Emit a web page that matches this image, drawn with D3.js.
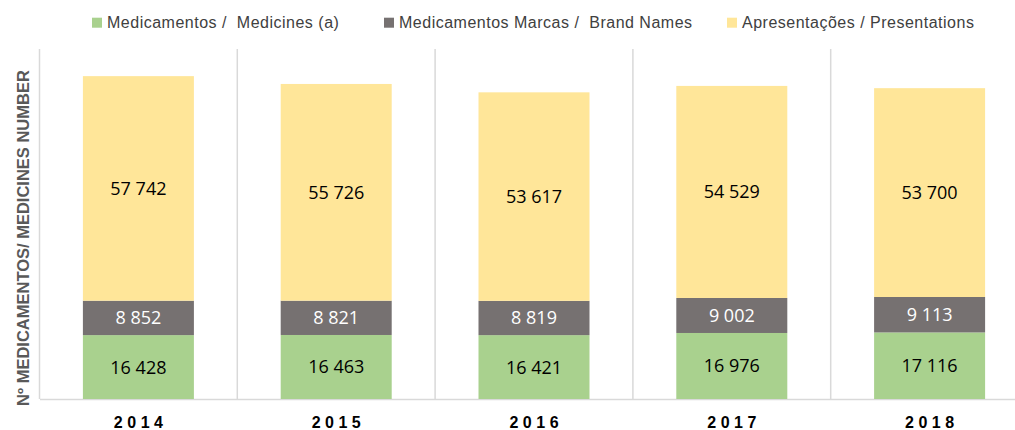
<!DOCTYPE html>
<html><head><meta charset="utf-8">
<script src="https://cdn.jsdelivr.net/npm/d3@7"></script>
<style>body{margin:0;background:#fff;}svg{display:block;}</style>
</head><body>
<svg id="chart" width="1015" height="430"></svg>
<script>
const categories = ["2014", "2015", "2016", "2017", "2018"];
const medicines = [16428, 16463, 16421, 16976, 17116];
const brandNames = [8852, 8821, 8819, 9002, 9113];
const presentations = [57742, 55726, 53617, 54529, 53700];
const seriesNames = ["Medicamentos /  Medicines (a)", "Medicamentos Marcas /  Brand Names", "Apresentações / Presentations"];
const seriesColors = ["#a9d18e", "#767171", "#ffe699"];
const labelColors = ["#000000", "#ffffff", "#000000"];
const yTitle = "Nº MEDICAMENTOS/ MEDICINES NUMBER";

(function() {
const seriesKeys = ["medicines", "brand", "presentations"];
const table = categories.map((c, i) => ({cat: c, medicines: medicines[i], brand: brandNames[i], presentations: presentations[i]}));
const stacked = d3.stack().keys(seriesKeys)(table);

const svg = d3.select("#chart");
const pLeft = 39.5, pRight = 1028.5, pTop = 49, pBottom = 399;
const x = d3.scaleBand().domain(categories).range([pLeft, pRight]).padding(0);
const y = d3.scaleLinear().domain([0, 90000]).range([pBottom, pTop]);
const barW = 111;
const fmt = d3.formatLocale({decimal: ",", thousands: " ", grouping: [3], currency: ["", ""]}).format(",d");

// vertical category separators
const seps = categories.map(c => x(c));
svg.append("g").selectAll("line").data(seps).join("line")
  .attr("x1", d => d).attr("x2", d => d).attr("y1", pTop).attr("y2", pBottom)
  .attr("stroke", "#d9d9d9").attr("stroke-width", 1.5);

// x axis baseline
const xAxis = svg.append("g").attr("transform", `translate(0,${pBottom})`)
  .call(d3.axisBottom(x).tickSize(0).tickPadding(18));
xAxis.select(".domain").attr("stroke", "#d9d9d9").attr("stroke-width", 1.5);
xAxis.selectAll("text").attr("font-family", "Liberation Sans, Arial, sans-serif")
  .attr("font-size", 16).attr("font-weight", "bold").attr("fill", "#000")
  .attr("letter-spacing", "4.5px").attr("dx", "2.25px");

// bars
const layers = svg.append("g").selectAll("g").data(stacked).join("g")
  .attr("fill", (d, i) => seriesColors[i]);
layers.selectAll("rect").data(d => d).join("rect")
  .attr("x", d => x(d.data.cat) + (x.bandwidth() - barW) / 2)
  .attr("width", barW)
  .attr("y", d => y(d[1]))
  .attr("height", d => y(d[0]) - y(d[1]));

// labels
const lab = svg.append("g").selectAll("g").data(stacked).join("g");
lab.each(function(s, si) {
  d3.select(this).selectAll("text").data(s).join("text")
    .attr("x", d => x(d.data.cat) + x.bandwidth() / 2)
    .attr("y", d => (y(d[0]) + y(d[1])) / 2)
    .attr("dy", "0.36em")
    .attr("text-anchor", "middle")
    .attr("font-family", "Open Sans, Liberation Sans, sans-serif")
    .attr("font-size", 18)
    .attr("fill", labelColors[si])
    .text(d => fmt(d[1] - d[0]));
});

// y title
svg.append("text")
  .attr("transform", "translate(29,238) rotate(-90)")
  .attr("text-anchor", "middle")
  .attr("font-family", "Liberation Sans, Arial, sans-serif")
  .attr("font-size", 16.5).attr("font-weight", "bold")
  .attr("fill", "#595959")
  .text(yTitle);

// legend
const legendX = [92, 384, 727];
const leg = svg.append("g").selectAll("g").data(seriesNames).join("g")
  .attr("transform", (d, i) => `translate(${legendX[i]},22.7)`);
leg.append("rect").attr("x", 0).attr("y", -5).attr("width", 10).attr("height", 10)
  .attr("fill", (d, i) => seriesColors[i]);
leg.append("text").attr("x", 15).attr("y", 0).attr("dy", "0.35em")
  .attr("font-family", "Liberation Sans, Arial, sans-serif")
  .attr("font-size", 16).attr("fill", "#404040")
  .attr("letter-spacing", "0.5px")
  .style("white-space", "pre")
  .text(d => d);
})();
</script>
</body></html>
